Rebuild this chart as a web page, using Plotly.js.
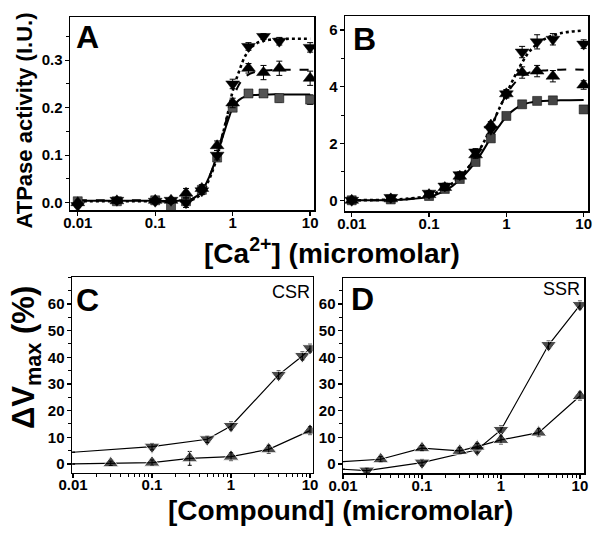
<!DOCTYPE html>
<html>
<head>
<meta charset="utf-8">
<script src="https://cdn.plot.ly/plotly-3.0.1.min.js"></script>
<style>html,body{margin:0;padding:0;background:#fff;}#chart{width:600px;height:533px;}</style>
</head>
<body>
<div id="chart"></div>
<script>
// ---------- DATA ----------
// Panel A/B: [Ca2+] (micromolar)
const caX = [0.01, 0.032, 0.1, 0.16, 0.25, 0.4, 0.63, 1, 1.6, 2.5, 4, 10];
// Panel A (CSR) ATPase activity (I.U.)
const aSquare = [0.003, 0.003, 0.005, -0.011, 0.003, 0.027, 0.095, 0.200, 0.230, 0.230, 0.220, 0.217];
const aSquareErr = [0.004, 0.004, 0.006, 0.004, 0.005, 0.006, 0.008, 0.008, 0.008, 0.006, 0.008, 0.01];
const aUp = [0.0, 0.004, 0.005, 0.005, 0.020, 0.030, 0.120, 0.210, 0.283, 0.274, 0.283, 0.262];
const aUpErr = [0.005, 0.005, 0.006, 0.006, 0.01, 0.008, 0.01, 0.01, 0.01, 0.015, 0.015, 0.015];
const aDown = [-0.006, 0.005, 0.003, 0.005, 0.0, 0.025, 0.100, 0.250, 0.329, 0.350, 0.340, 0.327];
const aDownErr = [0.004, 0.006, 0.005, 0.006, 0.01, 0.008, 0.01, 0.01, 0.008, 0.006, 0.008, 0.01];
// Panel A fitted curves
const aFitX = [0.01, 0.1, 0.2, 0.3, 0.4, 0.5, 0.6, 0.7, 0.8, 0.9, 1, 1.2, 1.5, 2, 3, 5, 10];
const aFitSquare = [0.004, 0.004, 0.004, 0.008, 0.025, 0.055, 0.09, 0.125, 0.155, 0.18, 0.2, 0.216, 0.224, 0.227, 0.228, 0.228, 0.228];
const aFitUp = [0.005, 0.005, 0.005, 0.008, 0.025, 0.055, 0.09, 0.13, 0.165, 0.195, 0.216, 0.248, 0.267, 0.276, 0.279, 0.28, 0.28];
const aFitDown = [0.003, 0.003, 0.003, 0.006, 0.02, 0.05, 0.085, 0.125, 0.165, 0.2, 0.235, 0.275, 0.313, 0.335, 0.343, 0.345, 0.345];
// Panel B (SSR)
const bSquare = [0.0, 0.03, 0.15, 0.4, 0.75, 1.35, 2.18, 2.97, 3.38, 3.5, 3.52, 3.2];
const bSquareErr = [0.05, 0.05, 0.08, 0.08, 0.1, 0.1, 0.1, 0.1, 0.1, 0.08, 0.08, 0.1];
const bUp = [0.0, 0.05, 0.2, 0.45, 0.85, 1.6, 2.65, 3.75, 4.5, 4.55, 4.37, 4.06];
const bUpErr = [0.05, 0.06, 0.08, 0.1, 0.1, 0.12, 0.12, 0.12, 0.2, 0.2, 0.2, 0.15];
const bDown = [0.0, 0.1, 0.25, 0.5, 0.9, 1.7, 2.5, 3.75, 5.22, 5.58, 5.67, 5.5];
const bDownErr = [0.05, 0.06, 0.08, 0.1, 0.1, 0.12, 0.12, 0.15, 0.2, 0.25, 0.2, 0.15];
const bFitX = [0.01, 0.03, 0.05, 0.1, 0.15, 0.2, 0.3, 0.4, 0.5, 0.63, 0.8, 1, 1.3, 1.6, 2, 3, 5, 10];
const bFitSquare = [0, 0.01, 0.03, 0.12, 0.3, 0.5, 0.95, 1.35, 1.75, 2.2, 2.6, 2.95, 3.22, 3.36, 3.44, 3.5, 3.52, 3.53];
const bFitUp = [0, 0.01, 0.04, 0.15, 0.35, 0.58, 1.05, 1.55, 2.0, 2.55, 3.2, 3.72, 4.15, 4.38, 4.5, 4.57, 4.6, 4.6];
const bFitDown = [0, 0.02, 0.05, 0.17, 0.38, 0.6, 1.05, 1.55, 2.0, 2.55, 3.2, 3.75, 4.4, 4.85, 5.25, 5.65, 5.88, 5.98];
// Panel C (CSR) dVmax (%) vs [Compound]
const cDownX = [0.01, 0.1, 0.5, 1, 4, 8, 10];
const cDown = [4.4, 6.5, 9.25, 14.25, 33.4, 40.5, 43.4];
const cDownErr = [0, 1.2, 1.2, 1.5, 1.5, 1.5, 1.5];
const cUpX = [0.01, 0.03, 0.1, 0.3, 1, 3, 10];
const cUp = [0, 0.25, 0.5, 2.1, 2.75, 5.5, 12.5];
const cUpErr = [0, 0.8, 1.0, 2.6, 1.5, 1.5, 1.5];
// Panel D (SSR)
const dDownX = [0.01, 0.02, 0.1, 0.5, 1, 4, 10];
const dDown = [-2.0, -2.5, 0.5, 5.3, 12.75, 44.6, 59.6];
const dDownErr = [0, 1.0, 1.2, 1.2, 1.5, 1.5, 1.5];
const dUpX = [0.01, 0.03, 0.1, 0.3, 0.5, 1, 3, 10];
const dUp = [0.9, 1.75, 5.9, 4.9, 6.5, 9.0, 11.75, 25.5];
const dUpErr = [0, 1.0, 1.0, 1.2, 1.2, 1.5, 1.5, 1.5];

// tick labels
const logTicks = [0.01, 0.1, 1, 10];
const logTickText = ['0.01', '0.1', '1', '10'];
const aYTicks = [0, 0.1, 0.2, 0.3];
const aYText = ['0.0', '0.1', '0.2', '0.3'];
const bYTicks = [0, 2, 4, 6];
const bYText = ['0', '2', '4', '6'];
const cdYTicks = [0, 10, 20, 30, 40, 50, 60];
const cdYText = ['0', '10', '20', '30', '40', '50', '60'];

// ---------- STYLE ----------
const F = 'Liberation Sans, Arial, sans-serif';
const tickFont = {family: F, size: 15, color: '#000', weight: 700};
const minorLog = [];
for (let e = -2; e <= 0; e++) for (let k = 2; k <= 9; k++) minorLog.push(k * Math.pow(10, e));
const B = s => '<b>' + s + '</b>';

function xAx(domain, range, anchor, minor, standoff) {
  const ax = {
    domain: domain, range: range, type: 'log', anchor: anchor,
    tickmode: 'array', tickvals: logTicks, ticktext: logTickText.map(B),
    ticks: 'outside', ticklen: 4, tickwidth: 1.3, tickcolor: '#000', ticklabelstandoff: standoff,
    showline: true, linecolor: '#000', linewidth: 1.5, mirror: true,
    showgrid: false, zeroline: false, tickfont: tickFont
  };
  if (minor) ax.minor = {tickmode: 'array', tickvals: minorLog, ticks: 'outside', ticklen: 3, tickwidth: 1, tickcolor: '#000', showgrid: false};
  return ax;
}
function yAx(domain, range, anchor, tv, tt, minorD) {
  return {
    domain: domain, range: range, anchor: anchor,
    tickmode: 'array', tickvals: tv, ticktext: tt.map(B),
    ticks: 'outside', ticklen: 4, tickwidth: 1.3, tickcolor: '#000', ticklabelstandoff: -1,
    minor: {tickmode: 'linear', dtick: minorD, tick0: 0, ticks: 'outside', ticklen: 2.5, tickwidth: 1, tickcolor: '#000', showgrid: false},
    showline: true, linecolor: '#000', linewidth: 1.5, mirror: true,
    showgrid: false, zeroline: false, tickfont: tickFont
  };
}

function fit(x, y, xa, ya, dash, width) {
  return {x: x, y: y, xaxis: xa, yaxis: ya, mode: 'lines', line: {color: '#000', width: width, dash: dash, shape: 'spline'}, hoverinfo: 'skip', showlegend: false};
}
function pts(x, y, err, xa, ya, symbol, color, size) {
  return {x: x, y: y, xaxis: xa, yaxis: ya, mode: 'markers',
    error_y: {type: 'data', array: err, visible: true, color: '#000', thickness: 1, width: 3},
    marker: {symbol: symbol, size: size, color: color, line: {color: '#000', width: 0.5}}, showlegend: false};
}
function conn(x, y, err, xa, ya, symbol) {
  const sizes = x.map((v, i) => (err[i] === 0 ? 0 : 14));
  return {x: x, y: y, xaxis: xa, yaxis: ya, mode: 'lines+markers',
    line: {color: '#000', width: 1.2},
    error_y: {type: 'data', array: err, visible: true, color: '#000', thickness: 1, width: 2},
    marker: {symbol: symbol, size: sizes, color: '#000'}, showlegend: false};
}

const traces = [
  fit(aFitX, aFitSquare, 'x', 'y', 'solid', 2),
  fit(aFitX, aFitUp, 'x', 'y', 'dash', 2),
  fit(aFitX, aFitDown, 'x', 'y', 'dot', 2.6),
  pts(caX, aSquare, aSquareErr, 'x', 'y', 'square', '#555', 9),
  pts(caX, aUp, aUpErr, 'x', 'y', 'triangle-up', '#000', 12),
  pts(caX, aDown, aDownErr, 'x', 'y', 'triangle-down', '#000', 12),
  fit(bFitX, bFitSquare, 'x2', 'y2', 'solid', 2),
  fit(bFitX, bFitUp, 'x2', 'y2', 'dash', 2),
  fit(bFitX, bFitDown, 'x2', 'y2', 'dot', 2.6),
  pts(caX, bSquare, bSquareErr, 'x2', 'y2', 'square', '#444', 9),
  pts(caX, bUp, bUpErr, 'x2', 'y2', 'triangle-up', '#000', 12),
  pts(caX, bDown, bDownErr, 'x2', 'y2', 'triangle-down', '#000', 12),
  conn(cDownX, cDown, cDownErr, 'x3', 'y3', 'triangle-down'),
  conn(cUpX, cUp, cUpErr, 'x3', 'y3', 'triangle-up'),
  conn(dDownX, dDown, dDownErr, 'x4', 'y4', 'triangle-down'),
  conn(dUpX, dUp, dUpErr, 'x4', 'y4', 'triangle-up')
];

function letter(t, x, y) {
  return {text: B(t), x: x / 600, y: 1 - y / 533, xref: 'paper', yref: 'paper', xanchor: 'center', yanchor: 'middle', showarrow: false,
    font: {family: F, size: 32, color: '#000', weight: 700}};
}

const layout = {
  width: 600, height: 533,
  margin: {l: 0, r: 0, t: 0, b: 0},
  paper_bgcolor: '#fff', plot_bgcolor: '#fff',
  font: {family: F, color: '#000'},
  showlegend: false,
  xaxis: xAx([70 / 600, 314 / 600], [-2.1, 1.05], 'y', false, -6),
  yaxis: yAx([1 - 210 / 533, 1 - 17 / 533], [-0.0154, 0.391], 'x', aYTicks, aYText, 0.05),
  xaxis2: xAx([345 / 600, 588 / 600], [-2.087, 1.056], 'y2', false, -6),
  yaxis2: yAx([1 - 211 / 533, 1 - 16 / 533], [-0.377, 6.49], 'x2', bYTicks, bYText, 1),
  xaxis3: xAx([72 / 600, 312.7 / 600], [-2.013, 1.034], 'y3', true, -6),
  yaxis3: yAx([1 - 472.5 / 533, 1 - 277 / 533], [-3.2, 70.1], 'x3', cdYTicks, cdYText, 5),
  xaxis4: xAx([343 / 600, 584.3 / 600], [-2.0, 1.055], 'y4', true, -6),
  yaxis4: yAx([1 - 473 / 533, 1 - 278 / 533], [-3.4, 69.75], 'x4', cdYTicks, cdYText, 5),
  annotations: [
    letter('A', 87.5, 36.5), letter('B', 364, 39), letter('C', 87.5, 299.5), letter('D', 362.5, 298.5),
    {text: 'CSR', x: 312 / 600, y: 1 - 291.5 / 533, xref: 'paper', yref: 'paper', xanchor: 'right', yanchor: 'middle', showarrow: false,
      font: {family: F, size: 18, color: '#000'}},
    {text: 'SSR', x: 582 / 600, y: 1 - 288.5 / 533, xref: 'paper', yref: 'paper', xanchor: 'right', yanchor: 'middle', showarrow: false,
      font: {family: F, size: 18, color: '#000'}},
    {text: B('ATPase activity (I.U.)'), x: 24 / 600, y: 1 - 120.5 / 533, xref: 'paper', yref: 'paper', xanchor: 'center', yanchor: 'middle', textangle: -90, showarrow: false,
      font: {family: F, size: 22, color: '#000', weight: 700}},
    {text: B('ΔV<sub>max</sub> (%)'), x: 26 / 600, y: 1 - 358 / 533, xref: 'paper', yref: 'paper', xanchor: 'center', yanchor: 'middle', textangle: -90, showarrow: false,
      font: {family: F, size: 31, color: '#000', weight: 700}},
    {text: B('[Ca<sup>2+</sup>] (micromolar)'), x: 332 / 600, y: 1 - 251 / 533, xref: 'paper', yref: 'paper', xanchor: 'center', yanchor: 'middle', showarrow: false,
      font: {family: F, size: 28, color: '#000', weight: 700}},
    {text: B('[Compound] (micromolar)'), x: 340 / 600, y: 1 - 511 / 533, xref: 'paper', yref: 'paper', xanchor: 'center', yanchor: 'middle', showarrow: false,
      font: {family: F, size: 28, color: '#000', weight: 700}}
  ]
};

Plotly.newPlot('chart', traces, layout, {staticPlot: true, displayModeBar: false});
</script>
</body>
</html>
